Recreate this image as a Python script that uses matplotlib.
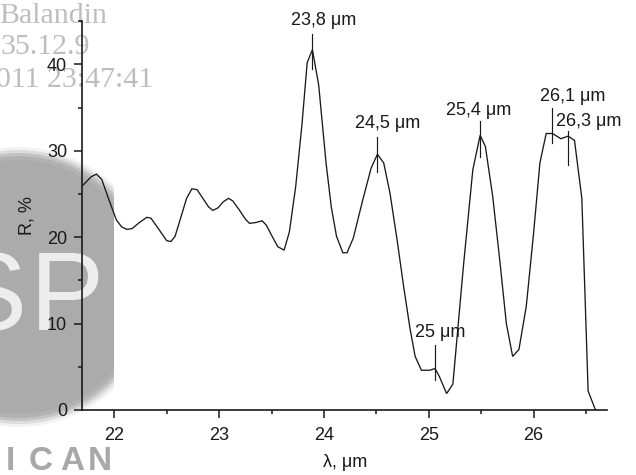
import matplotlib
matplotlib.use("Agg")
import matplotlib.pyplot as plt
from matplotlib.patches import Circle
from matplotlib.transforms import IdentityTransform, Bbox
from matplotlib.ticker import MultipleLocator

plt.rcParams["font.family"] = ["Liberation Sans", "DejaVu Sans"]

# reflectance spectrum, wavelength in um, R in %
wavelength = [21.70, 21.78, 21.83, 21.88, 21.95, 22.02, 22.07, 22.12, 22.17,
              22.24, 22.31, 22.35, 22.42, 22.50, 22.54, 22.58, 22.64, 22.69,
              22.74, 22.79, 22.85, 22.90, 22.94, 22.99, 23.04, 23.09, 23.13,
              23.19, 23.25, 23.29, 23.35, 23.41, 23.45, 23.51, 23.56, 23.62,
              23.67, 23.73, 23.79, 23.84, 23.89, 23.95, 24.02, 24.07, 24.12,
              24.18, 24.22, 24.28, 24.37, 24.45, 24.51, 24.57, 24.63, 24.70,
              24.76, 24.82, 24.87, 24.93, 25.01, 25.06, 25.10, 25.17, 25.23,
              25.33, 25.42, 25.49, 25.54, 25.61, 25.68, 25.74, 25.80, 25.86,
              25.93, 26.00, 26.06, 26.12, 26.18, 26.26, 26.33, 26.39, 26.46,
              26.52, 26.59]
reflectance = [26.0, 27.0, 27.3, 26.7, 24.3, 22.0, 21.2, 20.9, 21.0,
               21.7, 22.3, 22.2, 21.0, 19.6, 19.5, 20.1, 22.5, 24.5,
               25.6, 25.5, 24.4, 23.5, 23.1, 23.4, 24.1, 24.5, 24.2,
               23.2, 22.1, 21.6, 21.7, 21.9, 21.4, 20.0, 18.9, 18.5,
               20.6, 25.8, 33.0, 40.2, 41.7, 37.6, 28.6, 23.5, 20.1,
               18.2, 18.2, 19.9, 24.3, 28.0, 29.6, 28.6, 25.1, 19.5,
               14.3, 9.5, 6.2, 4.6, 4.6, 4.8, 3.9, 1.9, 3.0,
               16.6, 27.8, 31.8, 30.5, 24.7, 17.0, 10.0, 6.2, 7.0,
               12.0, 20.5, 28.6, 32.0, 32.0, 31.4, 31.7, 31.2, 24.5,
               2.2, 0.0]

# marked features: position, marker extent, label
peak_x = [23.89, 24.51, 25.06, 25.49, 26.18, 26.33]
peak_lo = [39.5, 27.5, 3.5, 29.3, 30.9, 28.3]
peak_hi = [43.5, 31.6, 7.5, 33.4, 35.0, 32.3]
peak_text = ["23,8 μm", "24,5 μm", "25 μm", "25,4 μm", "26,1 μm", "26,3 μm"]
# label anchor (x, baseline y, ha)
label_pos = [(23.996, 44.56, "center"), (24.61, 32.6, "center"),
             (25.113, 8.48, "center"), (25.479, 34.14, "center"),
             (26.37, 35.8, "center"), (26.21, 32.87, "left")]

INK = "#1a1a1a"
W, H = 636, 475

fig = plt.figure(figsize=(W / 100, H / 100), dpi=100)
ax = fig.add_axes([82.3 / W, 1 - 410 / H, 524.7 / W, 388.8 / H])
ax.patch.set_facecolor("none")

# grey stamp at the left edge, behind everything (soft rim from stacked rings)
clip = Bbox([[0, 0], [114, H]])
for r, a in [(140, 0.15), (137, 0.3), (134, 0.5), (131, 0.7), (127, 1.0)]:
    c = Circle((18, H - 287), r, transform=IdentityTransform(),
               facecolor="#ababab", edgecolor="none", alpha=a, zorder=-3)
    c.set_clip_box(clip)
    fig.add_artist(c)
for ch, x0, ha in [("S", 27, "right"), ("P", 30, "left")]:
    t = fig.text(x0 / W, 1 - 330 / H, ch, fontsize=80, color="white",
                 ha=ha, va="baseline", zorder=-2, alpha=0.8)
    t.set_clip_box(clip)
    t.set_clip_on(True)
for ch, xc in zip("ICAN", [10, 41, 72, 100]):
    t = fig.text(xc / W, 1 - 470 / H, ch, fontsize=24, fontweight="bold",
                 color="#a8a8a8", ha="center", va="baseline", zorder=-2)
    t.set_clip_box(clip)
    t.set_clip_on(True)
for s, xr, yb in [("Balandin", 107, 23), ("35.12.9", 90, 54),
                  ("011 23:47:41", 153, 87)]:
    fig.text(xr / W, 1 - yb / H, s, fontsize=21.5, color="#bdbdbd",
             family="Liberation Serif", ha="right", va="baseline", zorder=-2)

ax.plot(wavelength, reflectance, color=INK, lw=0.95, solid_joinstyle="miter")
for x, lo, hi in zip(peak_x, peak_lo, peak_hi):
    ax.plot([x, x], [lo, hi], color=INK, lw=0.85, clip_on=False)
for txt, (x, y, ha) in zip(peak_text, label_pos):
    ax.text(x, y, txt, fontsize=13, color=INK, ha=ha, va="baseline",
            clip_on=False)

ax.set_xlim(21.695, 26.70)
ax.set_ylim(0, 45)
ax.xaxis.set_major_locator(MultipleLocator(1))
ax.xaxis.set_minor_locator(MultipleLocator(0.5))
ax.yaxis.set_major_locator(MultipleLocator(10))
ax.yaxis.set_minor_locator(MultipleLocator(5))
for side in ["top", "right"]:
    ax.spines[side].set_visible(False)
for side in ["left", "bottom"]:
    ax.spines[side].set_linewidth(1.2)
    ax.spines[side].set_color(INK)
ax.tick_params(which="major", direction="out", length=5.5, width=1.1,
               color=INK, labelsize=13, labelcolor=INK)
ax.tick_params(which="minor", direction="out", length=3.2, width=1.1,
               color=INK)
ax.tick_params(axis="y", which="major", length=6, pad=5)
ax.tick_params(axis="x", which="major", pad=6.5)

ax.set_xlabel("λ, μm", fontsize=13, color=INK, va="baseline")
ax.xaxis.set_label_coords(0.5, -(467 - 410) / 388.8)
ax.set_ylabel("R, %", fontsize=13, color=INK, va="baseline")
ax.yaxis.set_label_coords(-(82.3 - 31.7) / 524.7, 0.5)

fig.savefig("out.png", dpi=100)
